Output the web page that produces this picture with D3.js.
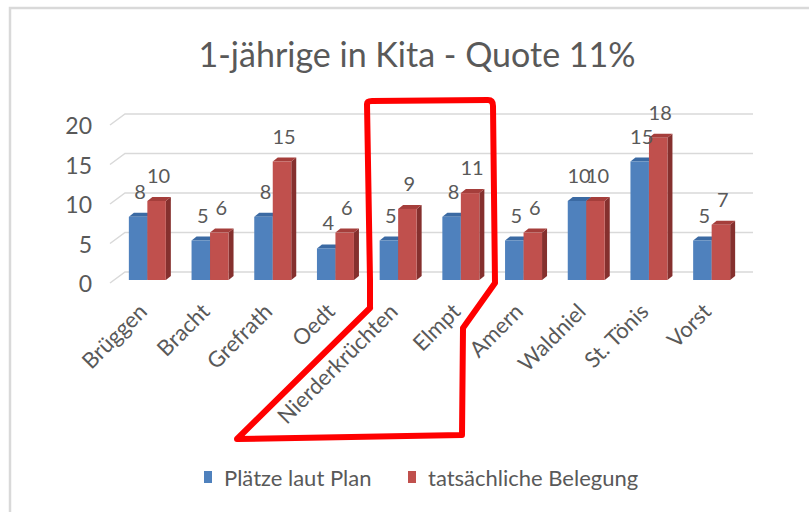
<!DOCTYPE html>
<html>
<head>
<meta charset="utf-8">
<script src="https://cdn.jsdelivr.net/npm/d3@7"></script>
<style>
  body { margin: 0; background: #fff; }
  svg text { font-family: Lato, "Open Sans", sans-serif; fill: #595959; }
</style>
</head>
<body>
<div id="chart"></div>
<script>
// data
const title = '1-jährige in Kita - Quote 11%';
const categories = ['Brüggen', 'Bracht', 'Grefrath', 'Oedt', 'Nierderkrüchten', 'Elmpt', 'Amern', 'Waldniel', 'St. Tönis', 'Vorst'];
const seriesNames = ['Plätze laut Plan', 'tatsächliche Belegung'];
const plan = [8, 5, 8, 4, 5, 8, 5, 10, 15, 5];
const belegung = [10, 6, 15, 6, 9, 11, 6, 10, 18, 7];
const yTicks = [0, 5, 10, 15, 20];

const colors = [
	{front: '#4f81bd', top: '#3b6aa3', side: '#2f5686'},
	{front: '#c0504d', top: '#a53e3b', side: '#85302e'}
];

const W = 809, H = 512;
// 3d offsets
const depthX = 5, depthY = -4;        // bar depth
const backDX = 15, backDY = -11;      // floor/wall depth

const svg = d3.select('#chart').append('svg')
	.attr('width', W)
	.attr('height', H);

// chart frame
svg.append('rect')
	.attr('x', 10).attr('y', 8)
	.attr('width', W + 20).attr('height', H + 20)
	.attr('fill', '#fff')
	.attr('stroke', '#d9d9d9')
	.attr('stroke-width', 2.5);

svg.append('text')
	.attr('x', 417).attr('y', 67)
	.attr('text-anchor', 'middle')
	.style('font-size', '34px')
	.text(title);

let x0 = d3.scaleBand()
	.domain(categories)
	.range([116, 743])
	.paddingInner(0.41)
	.paddingOuter(0.205);
let x1 = d3.scaleBand()
	.domain(seriesNames)
	.range([0, x0.bandwidth()]);
let y = d3.scaleLinear()
	.domain([0, 20])
	.range([280, 122]);

// gridlines on the back wall + side diagonal
let grid = svg.append('g');
yTicks.forEach(function(t) {
	let yf = y(t) + 3;
	grid.append('path')
		.attr('d', `M110,${yf}L${110 + backDX},${yf + backDY}L753,${yf + backDY}`)
		.attr('fill', 'none')
		.attr('stroke', '#d9d9d9')
		.attr('stroke-width', 1.5);
});

// y tick labels
svg.append('g').selectAll('text')
	.data(yTicks)
	.enter().append('text')
	.attr('x', 92)
	.attr('y', (d) => y(d) + 4)
	.attr('dy', '0.35em')
	.attr('text-anchor', 'end')
	.style('font-size', '23px')
	.text((d) => d);

// bars
const values = [plan, belegung];
let groups = svg.append('g').selectAll('.grp')
	.data(categories)
	.enter().append('g')
	.attr('class', 'grp')
	.attr('transform', (d) => `translate(${x0(d)},0)`);

seriesNames.forEach(function(s, si) {
	groups.each(function(c, ci) {
		let g = d3.select(this);
		let v = values[si][ci];
		let bx = x1(s), bw = x1.bandwidth(), top = y(v), base = y(0);
		// side
		g.append('path')
			.attr('d', `M${bx + bw},${top}L${bx + bw + depthX},${top + depthY}L${bx + bw + depthX},${base + depthY}L${bx + bw},${base}Z`)
			.attr('fill', colors[si].side);
		// top
		g.append('path')
			.attr('d', `M${bx},${top}L${bx + depthX},${top + depthY}L${bx + bw + depthX},${top + depthY}L${bx + bw},${top}Z`)
			.attr('fill', colors[si].top);
		// front
		g.append('rect')
			.attr('x', bx).attr('y', top)
			.attr('width', bw).attr('height', base - top)
			.attr('fill', colors[si].front);
	});
});

// data labels
seriesNames.forEach(function(s, si) {
	groups.append('text')
		.attr('x', x1(s) + x1.bandwidth() / 2 + 2)
		.attr('y', (d, i) => y(values[si][i]) - 18)
		.attr('text-anchor', 'middle')
		.style('font-size', '20px')
		.text((d, i) => values[si][i]);
});

// category labels
groups.append('text')
	.attr('transform', `translate(${x0.bandwidth() / 2 + 1},313) rotate(-45)`)
	.attr('text-anchor', 'end')
	.style('font-size', '22px')
	.text((d) => d);

// legend
let legend = svg.append('g').selectAll('.legend')
	.data(seriesNames)
	.enter().append('g')
	.attr('class', 'legend')
	.attr('transform', (d, i) => `translate(${i === 0 ? 204 : 408},471)`);
legend.append('rect')
	.attr('width', 8)
	.attr('height', 12)
	.attr('fill', (d, i) => colors[i].front);
legend.append('text')
	.attr('x', 20)
	.attr('y', 7)
	.attr('dy', '0.35em')
	.style('font-size', '22px')
	.text((d) => d);

// red hand-drawn annotation
svg.append('path')
	.attr('d', 'M370,308L370,280L367,104Q367,101 372,101L488,100Q493,100 493,106L495,283L463,328L462,435L237,439L370,308')
	.attr('fill', 'none')
	.attr('stroke', '#ff0000')
	.attr('stroke-width', 6)
	.attr('stroke-linejoin', 'round')
	.attr('stroke-linecap', 'round');
</script>
</body>
</html>
